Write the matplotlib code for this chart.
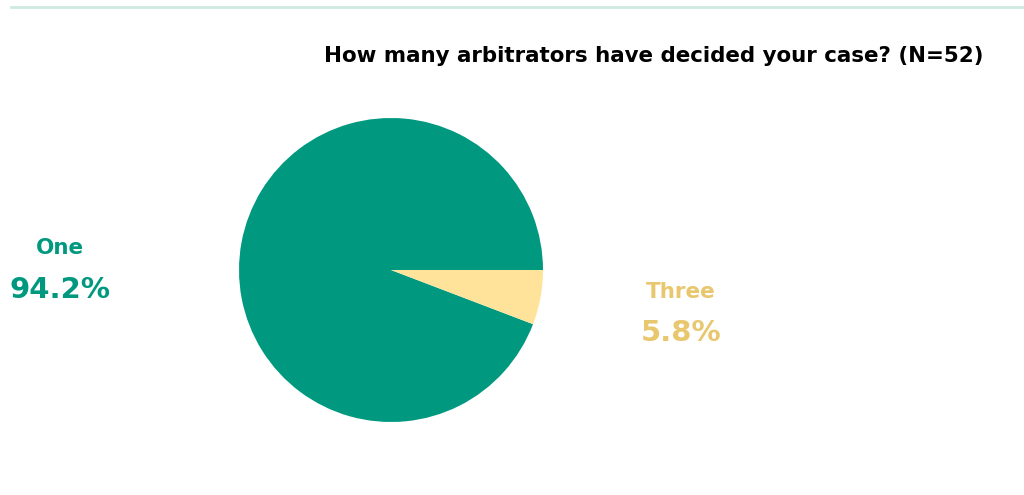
import matplotlib
matplotlib.use("Agg")
import matplotlib.pyplot as plt
from matplotlib.lines import Line2D

categories = ["One", "Three"]
shares = [94.2, 5.8]
slice_colors = ["#009980", "#FFE39A"]
label_colors = ["#009980", "#E8C76E"]
title = "How many arbitrators have decided your case? (N=52)"

W, H = 1024, 495
fig = plt.figure(figsize=(W / 100, H / 100), dpi=100)
fig.patch.set_facecolor("white")

# thin rule across the top
fig.add_artist(Line2D([11 / W, 1.0], [1 - 7 / H, 1 - 7 / H],
                      transform=fig.transFigure, color="#cfe8e1", lw=2))

fig.text(654 / W, 1 - 56 / H, title, ha="center", va="center",
         fontsize=15.4, fontweight="bold", color="black")

# pie: centre (391, 270), radius 152 px
cx, cy, r = 391, 270, 152
ax = fig.add_axes([(cx - r) / W, 1 - (cy + r) / H, 2 * r / W, 2 * r / H])
ax.pie(shares, colors=slice_colors, startangle=0, counterclock=True,
       radius=1.0, wedgeprops=dict(linewidth=0))
ax.set_xlim(-1, 1)
ax.set_ylim(-1, 1)
ax.set_aspect("equal")
ax.axis("off")

label_pos = [(60, 248, 290), (681, 292, 333)]
for cat, val, col, (x, y1, y2) in zip(categories, shares, label_colors, label_pos):
    fig.text(x / W, 1 - y1 / H, cat, ha="center", va="center",
             fontsize=15.5, fontweight="bold", color=col)
    fig.text(x / W, 1 - y2 / H, f"{val:.1f}%", ha="center", va="center",
             fontsize=21, fontweight="bold", color=col)

fig.savefig("out.png", dpi=100, facecolor="white")
